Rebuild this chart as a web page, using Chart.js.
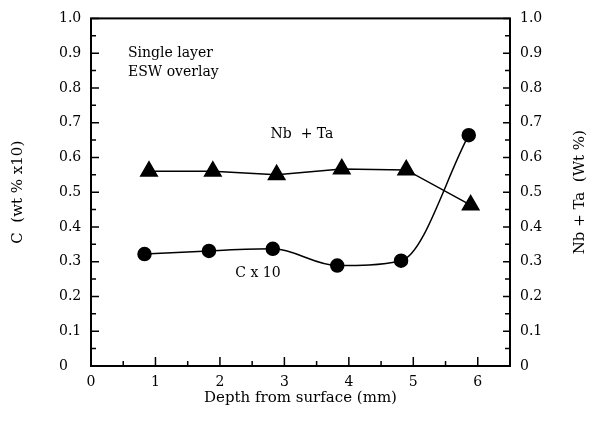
<!DOCTYPE html>
<html>
<head>
<meta charset="utf-8">
<script src="https://cdn.jsdelivr.net/npm/chart.js@4"></script>
<style>
  html, body { margin: 0; padding: 0; background: #fff; }
  #wrap { width: 590px; height: 425px; position: relative; }
</style>
</head>
<body>
<div id="wrap"><canvas id="depthChart"></canvas></div>
<script>
// values
const cDepth = [0.83, 1.83, 2.82, 3.82, 4.81, 5.86];
const cValues = [0.322, 0.331, 0.337, 0.289, 0.303, 0.664];
const nbDepth = [0.90, 1.89, 2.88, 3.89, 4.89, 5.89];
const nbValues = [0.56, 0.56, 0.55, 0.567, 0.564, 0.463];

const xTicks = [0, 1, 2, 3, 4, 5, 6];
const xMinorTicks = [0.5, 1.5, 2.5, 3.5, 4.5, 5.5];
const yTicks = [0, 0.1, 0.2, 0.3, 0.4, 0.5, 0.6, 0.7, 0.8, 0.9, 1.0];
const yMinorTicks = [0.05, 0.15, 0.25, 0.35, 0.45, 0.55, 0.65, 0.75, 0.85, 0.95];

const serif = "'DejaVu Serif', serif";
Chart.defaults.color = "#000";
Chart.defaults.font.family = serif;

function yLabel(v) {
  return v === 0 ? "0" : v.toFixed(1);
}

// box, inward ticks, left tick labels, right title and the text notes
const framePlugin = {
  id: "frame",
  afterDraw(chart) {
    const ctx = chart.ctx;
    const a = chart.chartArea;
    const x = chart.scales.x;
    const y = chart.scales.y;
    ctx.save();
    ctx.strokeStyle = "#000";
    ctx.lineWidth = 2;
    ctx.strokeRect(a.left, a.top, a.right - a.left, a.bottom - a.top);

    ctx.lineWidth = 1.5;
    ctx.beginPath();
    yTicks.forEach((v) => {
      const py = y.getPixelForValue(v);
      ctx.moveTo(a.left, py); ctx.lineTo(a.left + 8, py);
      ctx.moveTo(a.right, py); ctx.lineTo(a.right - 7, py);
    });
    yMinorTicks.forEach((v) => {
      const py = y.getPixelForValue(v);
      ctx.moveTo(a.left, py); ctx.lineTo(a.left + 5, py);
      ctx.moveTo(a.right, py); ctx.lineTo(a.right - 5, py);
    });
    xTicks.forEach((v) => {
      const px = x.getPixelForValue(v);
      ctx.moveTo(px, a.bottom); ctx.lineTo(px, a.bottom - 9);
    });
    xMinorTicks.forEach((v) => {
      const px = x.getPixelForValue(v);
      ctx.moveTo(px, a.bottom); ctx.lineTo(px, a.bottom - 5);
    });
    ctx.stroke();

    ctx.fillStyle = "#000";
    ctx.font = "14px " + serif;
    ctx.textAlign = "left";
    ctx.textBaseline = "middle";
    yTicks.forEach((v) => {
      ctx.fillText(yLabel(v), 59, y.getPixelForValue(v));
    });

    ctx.fillText("Single layer", 128, 53);
    ctx.fillText("ESW overlay", 128, 72);
    ctx.textAlign = "center";
    ctx.fillText("Nb  + Ta", 302, 134);
    ctx.fillText("C x 10", 258, 273);

    ctx.font = "15px " + serif;
    ctx.translate(580, (a.top + a.bottom) / 2);
    ctx.rotate(-Math.PI / 2);
    ctx.fillText("Nb + Ta  (Wt %)", 0, 0);
    ctx.restore();
  },
};

new Chart(document.getElementById("depthChart"), {
  type: "line",
  data: {
    datasets: [
      {
        label: "C x 10",
        data: cDepth.map((d, i) => ({ x: d, y: cValues[i] })),
        borderColor: "#000",
        backgroundColor: "#000",
        borderWidth: 1.5,
        pointStyle: "circle",
        pointRadius: 6.5,
        cubicInterpolationMode: "monotone",
        yAxisID: "y",
      },
      {
        label: "Nb + Ta",
        data: nbDepth.map((d, i) => ({ x: d, y: nbValues[i] })),
        borderColor: "#000",
        backgroundColor: "#000",
        borderWidth: 1.5,
        pointStyle: "triangle",
        pointRadius: 9.5,
        tension: 0,
        yAxisID: "y1",
      },
    ],
  },
  options: {
    responsive: true,
    maintainAspectRatio: false,
    animation: false,
    events: [],
    layout: { padding: { top: 13, left: 0, right: 0, bottom: 0 } },
    plugins: {
      legend: { display: false },
      tooltip: { enabled: false },
    },
    scales: {
      x: {
        type: "linear",
        min: 0,
        max: 6.5,
        afterFit: (s) => { s.height = 59; },
        afterBuildTicks: (s) => { s.ticks = xTicks.map((v) => ({ value: v })); },
        grid: { display: false, drawTicks: false },
        border: { display: false },
        ticks: { padding: 8, font: { size: 14 }, maxRotation: 0 },
        title: {
          display: true,
          text: "Depth from surface (mm)",
          font: { size: 15 },
          padding: { top: 0, bottom: 18 },
        },
      },
      y: {
        position: "left",
        min: 0,
        max: 1,
        afterFit: (s) => { s.width = 91; },
        grid: { display: false, drawTicks: false },
        border: { display: false },
        ticks: { display: false },
        title: {
          display: true,
          text: "C  (wt % x10)",
          font: { size: 15 },
          padding: { top: 9, bottom: 0 },
        },
      },
      y1: {
        position: "right",
        min: 0,
        max: 1,
        afterFit: (s) => { s.width = 80; },
        afterBuildTicks: (s) => { s.ticks = yTicks.map((v) => ({ value: v })); },
        grid: { display: false, drawTicks: false },
        border: { display: false },
        ticks: { padding: 10, font: { size: 14 }, callback: (v) => yLabel(v) },
      },
    },
  },
  plugins: [framePlugin],
});
</script>
</body>
</html>
